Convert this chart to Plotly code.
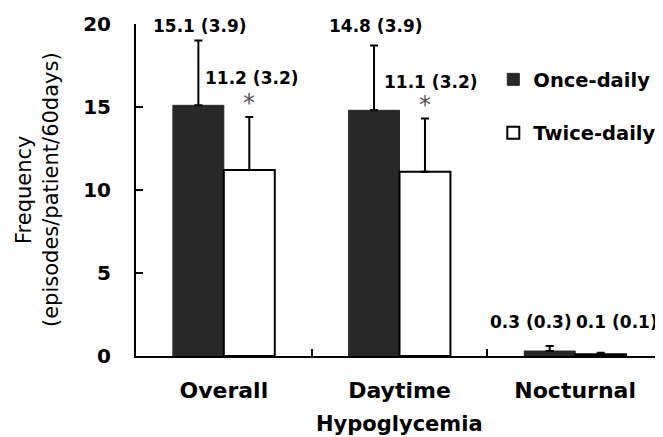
import plotly.graph_objects as go

categories = ["Overall", "Daytime", "Nocturnal"]
once_mean = [15.1, 14.8, 0.3]
once_sd = [3.9, 3.9, 0.3]
twice_mean = [11.2, 11.1, 0.1]
twice_sd = [3.2, 3.2, 0.1]
significant = [True, True, False]
series_names = ["Once-daily", "Twice-daily"]
y_ticks = [0, 5, 10, 15, 20]

BOLD = "DejaVu Sans"
DARK = "#282828"

fig = go.Figure()
fig.add_trace(go.Bar(
    x=categories, y=once_mean, name=series_names[0], legendgroup="a",
    marker=dict(color=DARK, line=dict(color=DARK, width=1)),
    error_y=dict(type="data", symmetric=False, array=once_sd,
                 arrayminus=[0] * len(once_sd), color="black", thickness=2, width=4),
))
fig.add_trace(go.Bar(
    x=categories, y=twice_mean, name=series_names[1], legendgroup="b",
    marker=dict(color="white", line=dict(color="black", width=2)),
    error_y=dict(type="data", symmetric=False, array=twice_sd,
                 arrayminus=[0] * len(twice_sd), color="black", thickness=2, width=4),
))

# label offsets in pixels (x, y) for each category
once_off = [(-24, 14.5), (-24, 19.5), (-44, 24.5)]
twice_off = [(28, 38.7), (31, 37), (42, 31)]

annotations = []
for i, c in enumerate(categories):
    annotations.append(dict(
        x=c, y=once_mean[i] + once_sd[i], xref="x", yref="y",
        text=f"{once_mean[i]} ({once_sd[i]})", showarrow=False,
        xshift=once_off[i][0], yshift=once_off[i][1], yanchor="middle",
        font=dict(family=BOLD, size=17, color="black", weight="bold")))
    annotations.append(dict(
        x=c, y=twice_mean[i] + twice_sd[i], xref="x", yref="y",
        text=f"{twice_mean[i]} ({twice_sd[i]})", showarrow=False,
        xshift=twice_off[i][0], yshift=twice_off[i][1], yanchor="middle",
        font=dict(family=BOLD, size=17, color="black", weight="bold")))
    if significant[i]:
        annotations.append(dict(
            x=c, y=twice_mean[i] + twice_sd[i], xref="x", yref="y",
            text="*", showarrow=False, xshift=25, yshift=14, yanchor="middle",
            font=dict(family="DejaVu Sans", size=24, color="#555555")))

annotations.append(dict(
    x=0.5, y=0, xref="paper", yref="paper", text="Hypoglycemia",
    showarrow=False, yanchor="middle", yshift=-68,
    font=dict(family=BOLD, size=21, color="black", weight="bold")))
annotations.append(dict(
    x=0, y=0.5, xref="paper", yref="paper",
    text="Frequency<br>(episodes/patient/60days)", textangle=-90,
    showarrow=False, xanchor="center", yanchor="middle", xshift=-99,
    font=dict(family="DejaVu Sans", size=21, color="black")))

# page body has an 8px default margin; size the figure to fit the window
fig.update_layout(
    width=655, height=429,
    margin=dict(l=128, r=0, t=16, b=81),
    paper_bgcolor="white", plot_bgcolor="white",
    barmode="group", bargap=0.42, bargroupgap=0,
    showlegend=True,
    legend=dict(x=0.678, y=0.891, xanchor="left", yanchor="top",
                font=dict(family=BOLD, size=19.5, color="black", weight="bold"),
                traceorder="grouped", tracegroupgap=25, bgcolor="rgba(0,0,0,0)"),
    annotations=annotations,
    xaxis=dict(range=[-0.5, 2.5], showline=True, linecolor="black", linewidth=2,
               ticks="inside", tickson="boundaries", ticklen=7, tickwidth=2,
               tickcolor="black", showgrid=False, zeroline=False,
               ticklabelstandoff=14,
               tickfont=dict(family=BOLD, size=22, color="black", weight="bold")),
    yaxis=dict(range=[0, 20], tickvals=y_ticks, showline=True, linecolor="black",
               linewidth=2, ticks="inside", ticklen=7, tickwidth=2, tickcolor="black",
               showgrid=False, zeroline=False, ticklabelstandoff=19,
               tickfont=dict(family=BOLD, size=20, color="black", weight="bold")),
)

fig.write_html("out.html")
